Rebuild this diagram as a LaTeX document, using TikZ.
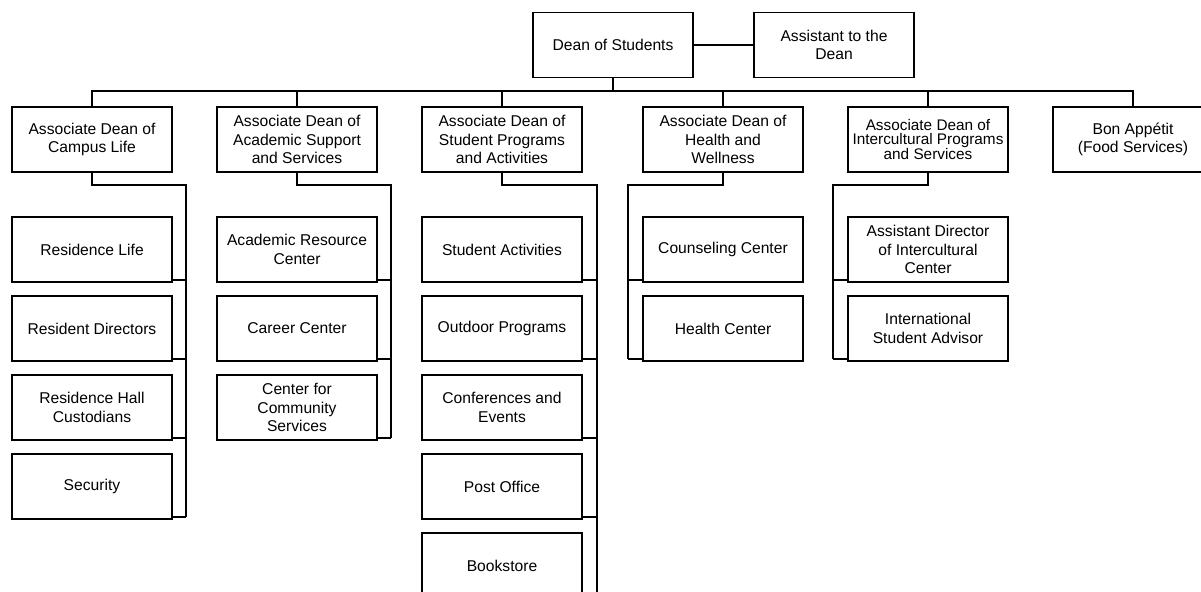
\documentclass[tikz,border=0pt]{standalone}
\usepackage{fontspec}
\setmainfont{Liberation Sans}
\usetikzlibrary{positioning}

\begin{document}
\begin{tikzpicture}[
    x=1bp, y=1bp,
    node distance=45bp,
    font=\fontsize{15.7}{18.3}\selectfont,
    unit/.style={
		rectangle,
		draw=black,
		line width=1.6bp,
		align=center,
		inner sep=0pt,
		outer sep=0pt,
		minimum width=160bp,
		minimum height=65bp,
		fill=white
	},
	link/.style={
		line width=1.6bp
	}
  ]
  \useasboundingbox (0,0) rectangle (1201,-592);
  \clip (0,0) rectangle (1201,-592);

  % We start by placing the blocks
  \node [unit] (dean) at (613,-45) {Dean of Students};
  \node [unit, right=61bp of dean] (asst) {Assistant to the\\Dean};

  % associate deans
  \node [unit] (campus) at (92,-139.5) {Associate Dean of\\Campus Life};
  \node [unit, right=of campus] (acad) {Associate Dean of\\Academic Support\\and Services};
  \node [unit, right=of acad] (progs) {Associate Dean of\\Student Programs\\and Activities};
  \node [unit, right=61bp of progs] (health) {Associate Dean of\\Health and\\Wellness};
  \node [unit, right=of health, font=\fontsize{15.4}{14.5}\selectfont] (cult) {Associate Dean of\\Intercultural Programs\\and Services};
  \node [unit, right=of cult] (food) {Bon Appétit\\(Food Services)};

  % campus life
  \node [unit, below=of campus] (reslife) {Residence Life};
  \node [unit, below=14bp of reslife] (resdir) {Resident Directors};
  \node [unit, below=14bp of resdir] (custod) {Residence Hall\\Custodians};
  \node [unit, below=14bp of custod] (secur) {Security};

  % academic support
  \node [unit, below=of acad] (arc) {Academic Resource\\Center};
  \node [unit, below=14bp of arc] (career) {Career Center};
  \node [unit, below=14bp of career] (commserv) {Center for\\Community\\Services};

  % student programs
  \node [unit, below=of progs] (activ) {Student Activities};
  \node [unit, below=14bp of activ] (outdoor) {Outdoor Programs};
  \node [unit, below=14bp of outdoor] (confer) {Conferences and\\Events};
  \node [unit, below=14bp of confer] (post) {Post Office};
  \node [unit, below=14bp of post] (books) {Bookstore};

  % health and wellness
  \node [unit, below=of health] (counsel) {Counseling Center};
  \node [unit, below=14bp of counsel] (healthctr) {Health Center};

  % intercultural
  \node [unit, below=of cult] (astdir) {Assistant Director\\of Intercultural\\Center};
  \node [unit, below=14bp of astdir] (intladv) {International\\Student Advisor};

  % lines from the top
  \draw [link] (dean) -- (asst);
  \draw [link] (dean.south) -- ++(0,-13.5);
  \draw [link] (campus.north) -- ++(0,16) -| (food.north);
  \foreach \n in {acad,progs,health,cult}
    \draw [link] (\n.north) -- ++(0,16);

  % lines down the right side
  \draw [link] (campus.south) -- ++(0,-13) -| ([xshift=14bp,yshift=2bp]secur.south east);
  \foreach \n in {reslife,resdir,custod,secur}
    \draw [link] ([yshift=2bp]\n.south east) -- ++(14,0);

  \draw [link] (acad.south) -- ++(0,-13) -| ([xshift=14bp,yshift=2bp]commserv.south east);
  \foreach \n in {arc,career,commserv}
    \draw [link] ([yshift=2bp]\n.south east) -- ++(14,0);

  \draw [link] (progs.south) -- ++(0,-13) -| ([xshift=15bp,yshift=2bp]books.south east);
  \foreach \n in {activ,outdoor,confer,post,books}
    \draw [link] ([yshift=2bp]\n.south east) -- ++(15,0);

  % lines down the left side
  \draw [link] (health.south) -- ++(0,-13) -| ([xshift=-15bp,yshift=2bp]healthctr.south west);
  \foreach \n in {counsel,healthctr}
    \draw [link] ([yshift=2bp]\n.south west) -- ++(-15,0);

  \draw [link] (cult.south) -- ++(0,-13) -| ([xshift=-15bp,yshift=2bp]intladv.south west);
  \foreach \n in {astdir,intladv}
    \draw [link] ([yshift=2bp]\n.south west) -- ++(-15,0);

\end{tikzpicture}
\end{document}
